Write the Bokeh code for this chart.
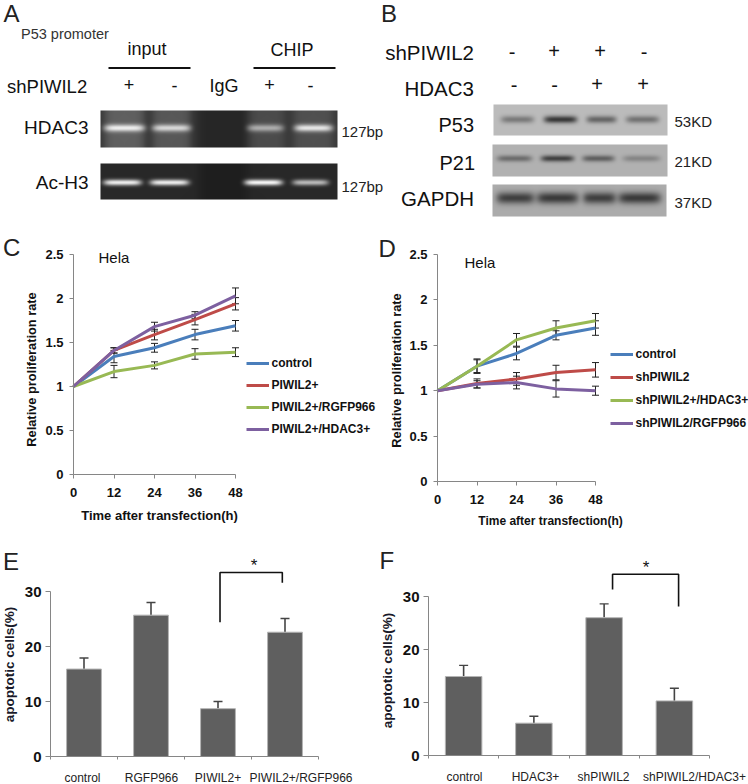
import numpy as np
from bokeh.embed import file_html
from bokeh.resources import INLINE
from bokeh.core.properties import value
from bokeh.layouts import column, row
from bokeh.models import (ColumnDataSource, FixedTicker, Label, Legend, LegendItem, LinearAxis, PrintfTickFormatter,
                          Range1d, TeeHead, Whisker)
from bokeh.plotting import figure

FONT = "Liberation Sans"

# ---- data ----
hours = [0, 12, 24, 36, 48]

c_names = ["control", "PIWIL2+", "PIWIL2+/RGFP966", "PIWIL2+/HDAC3+"]
c_control = [1, 1.34, 1.44, 1.59, 1.69]
c_piwil2 = [1, 1.41, 1.59, 1.76, 1.94]
c_rgfp = [1, 1.17, 1.24, 1.37, 1.39]
c_hdac3 = [1, 1.41, 1.68, 1.81, 2.03]
c_control_err = [0, 0.07, 0.05, 0.06, 0.06]
c_piwil2_err = [0, 0.03, 0.06, 0.06, 0.07]
c_rgfp_err = [0, 0.07, 0.04, 0.06, 0.05]
c_hdac3_err = [0, 0.03, 0.05, 0.04, 0.09]

d_names = ["control", "shPIWIL2", "shPIWIL2+/HDAC3+", "shPIWIL2/RGFP966"]
d_control = [1, 1.27, 1.41, 1.61, 1.69]
d_shpiwil2 = [1, 1.08, 1.13, 1.20, 1.23]
d_hdac3 = [1, 1.27, 1.56, 1.69, 1.77]
d_rgfp = [1, 1.07, 1.09, 1.02, 1.00]
d_control_err = [0, 0.08, 0.07, 0.05, 0.08]
d_shpiwil2_err = [0, 0.05, 0.07, 0.08, 0.08]
d_hdac3_err = [0, 0.07, 0.07, 0.08, 0.08]
d_rgfp_err = [0, 0.04, 0.07, 0.09, 0.05]

e_names = ["control", "RGFP966", "PIWIL2+", "PIWIL2+/RGFP966"]
e_values = [15.9, 25.7, 8.7, 22.6]
e_upper = [17.9, 28.0, 10.0, 25.1]

f_names = ["control", "HDAC3+", "shPIWIL2", "shPIWIL2/HDAC3+"]
f_values = [14.9, 6.1, 26.0, 10.3]
f_upper = [17.0, 7.4, 28.6, 12.7]

# band strengths read from the blots
a_hdac3_bands = [1.0, 0.85, 0.6, 0.95]
a_ach3_bands = [0.95, 0.95, 1.0, 0.7]
b_p53_bands = [0.5, 1.0, 0.65, 0.55]
b_p21_bands = [0.55, 0.9, 0.65, 0.35]
b_gapdh_bands = [0.95, 1.0, 0.95, 1.0]

BLUE, RED, GREEN, PURPLE = "#4a7ebb", "#be4b48", "#98b954", "#7d60a0"
AXIS = "#868686"


def gel(p, box, bg, band_col, lanes, cy, thick, strengths, smear=()):
    x0, y0, x1, y1 = box
    w, h = x1 - x0, y1 - y0
    ys, xs = np.mgrid[0:h, 0:w]
    xs = xs + x0 + 0.5
    ys = ys + y0 + 0.5
    val = np.full((h, w), float(bg))
    for sx, sw, samp in smear:
        val += samp * np.exp(-(((xs - sx) / (sw / 2)) ** 6))
    for (cx, bw), s in zip(lanes, strengths):
        prof = np.exp(-(((xs - cx) / (bw / 2)) ** 6)) * np.exp(-(((ys - cy) / thick) ** 2))
        val = val + (band_col - val) * np.clip(prof * s, 0, 1)
    val = np.clip(val, 0, 255).astype(np.uint32)
    rgba = (255 << 24) | (val << 16) | (val << 8) | val
    p.image_rgba(image=[rgba[::-1].astype(np.uint32)], x=x0, y=TOP_H - y1, dw=w, dh=h)


# ---- top panels (A, B): one canvas in page pixels ----
TOP_H = 228
top = figure(width=748, height=TOP_H, x_range=Range1d(0, 748), y_range=Range1d(0, TOP_H),
             output_backend="svg", toolbar_location=None, min_border=0)
top.axis.visible = False
top.grid.visible = False
top.outline_line_color = None

gel(top, (100, 110, 337, 147), 58, 240, [(124, 40), (171, 38), (265, 36), (313, 38)], 127.5, 3.6, a_hdac3_bands,
    smear=[(124, 40, 38), (171, 38, 30), (265, 38, 18), (313, 40, 22), (223, 56, -20)])
gel(top, (100, 163, 337, 199), 40, 250, [(122, 38), (169, 39), (263, 38), (310, 36)], 182, 3.0, a_ach3_bands,
    smear=[(223, 50, -10)])
gel(top, (493, 104, 667, 135), 188, 55, [(517, 33), (560, 33), (601, 30), (642, 33)], 119, 3.6, b_p53_bands)
gel(top, (492, 144, 667, 176), 178, 50, [(514, 35), (557, 33), (598, 32), (641, 37)], 158, 3.2, b_p21_bands)
gel(top, (492, 184, 666, 216), 172, 58, [(515, 38), (557, 42), (599, 33), (639, 43)], 197.5, 5.8, b_gapdh_bands)

top_texts = [
    ("A", 3, 13, 24, "left", "#222222"), ("P53 promoter", 20.5, 33, 14.5, "left", "#333333"),
    ("input", 146.5, 48, 18, "center", "#111111"), ("CHIP", 291.5, 49, 18, "center", "#111111"),
    ("shPIWIL2", 6.5, 86, 18.5, "left", "#111111"), ("+", 128.5, 84, 18, "center", "#111111"),
    ("-", 174, 85, 18, "center", "#111111"), ("IgG", 223.5, 85, 18, "center", "#111111"),
    ("+", 269, 84, 18, "center", "#111111"), ("-", 310, 85, 18, "center", "#111111"),
    ("HDAC3", 88, 127, 19, "right", "#111111"), ("Ac-H3", 88, 182, 19, "right", "#111111"),
    ("127bp", 341, 131, 15, "left", "#222222"), ("127bp", 341, 186, 15, "left", "#222222"),
    ("B", 380.5, 13, 24, "left", "#222222"),
    ("shPIWIL2", 473.5, 52, 20.5, "right", "#111111"), ("HDAC3", 473.5, 88, 20.5, "right", "#111111"),
    ("P53", 473.5, 124, 20, "right", "#111111"), ("P21", 474.5, 162, 20, "right", "#111111"),
    ("GAPDH", 473.5, 198, 20.5, "right", "#111111"),
    ("-", 511.5, 51, 20, "center", "#111111"), ("+", 553.5, 50, 20, "center", "#111111"),
    ("+", 599.5, 50, 20, "center", "#111111"), ("-", 643.5, 51, 20, "center", "#111111"),
    ("-", 513.5, 84, 20, "center", "#111111"), ("-", 554, 84, 20, "center", "#111111"),
    ("+", 596.5, 83, 20, "center", "#111111"), ("+", 642.5, 83, 20, "center", "#111111"),
    ("53KD", 674, 121, 15, "left", "#222222"), ("21KD", 674, 161, 15, "left", "#222222"),
    ("37KD", 674, 202, 15, "left", "#222222"),
]
for txt, x, y, size, align, col in top_texts:
    top.text(x=[x], y=[TOP_H - y], text=[txt], text_font=value(FONT), text_font_size=f"{size}px",
             text_align=align, text_baseline="middle", text_color=col)
top.line(x=[108, 190], y=[TOP_H - 67.5] * 2, line_color="#111111", line_width=2.2)
top.line(x=[253, 335], y=[TOP_H - 67.5] * 2, line_color="#111111", line_width=2.2)


def canvas_figure(ox, oy, w, h, fl, fr, ft, fb, xmax, ymax):
    """A figure whose frame fills the canvas, with (0,0)-(xmax,ymax) at the given page pixels."""
    sx = xmax / (fr - fl)
    sy = ymax / (fb - ft)
    p = figure(width=w, height=h, x_range=Range1d(-(fl - ox) * sx, xmax + (ox + w - fr) * sx),
               y_range=Range1d(-(oy + h - fb) * sy, ymax + (ft - oy) * sy), x_axis_location=None,
               y_axis_location=None, output_backend="svg", toolbar_location=None, min_border=0)
    p.grid.visible = False
    p.outline_line_color = None
    return p


def label(p, ox, oy, h, txt, x, y, size, align="left", style="normal", color="#111111", angle=0):
    p.add_layout(Label(x=x - ox, y=oy + h - y, x_units="screen", y_units="screen", text=txt, text_font=FONT,
                       text_font_size=f"{size}px", text_align=align, text_baseline="middle",
                       text_font_style=style, text_color=color, angle=angle, level="overlay"))


def line_panel(ox, oy, w, h, fl, fr, ft, fb, names, series, errs, letter, lx, ly, hela_x, hela_y,
               leg_x, leg_first, leg_step, ytitle, xtitle, xlab_size):
    p = canvas_figure(ox, oy, w, h, fl, fr, ft, fb, 48, 2.5)
    xax = LinearAxis(fixed_location=0, bounds=(0, 48), ticker=FixedTicker(ticks=hours))
    yax = LinearAxis(fixed_location=0, bounds=(0, 2.5), ticker=FixedTicker(ticks=[0, 0.5, 1, 1.5, 2, 2.5]),
                     formatter=PrintfTickFormatter(format="%g"))
    p.add_layout(xax, "below")
    p.add_layout(yax, "left")
    for ax in (xax, yax):
        ax.major_label_text_font = FONT
        ax.major_label_text_font_style = "bold"
        ax.major_label_text_font_size = "13px"
        ax.major_label_text_color = "#111111"
        ax.axis_line_color = AXIS
        ax.major_tick_line_color = AXIS
        ax.minor_tick_line_color = None
        ax.major_tick_in = 0
        ax.major_tick_out = 4
    xax.major_label_standoff = 9
    yax.major_label_standoff = 6
    items = []
    for name, ys, err, col in zip(names, series, errs, [BLUE, RED, GREEN, PURPLE]):
        r = p.line(hours, ys, line_color=col, line_width=3)
        items.append(LegendItem(label=name, renderers=[r]))
        up = [a + b for a, b in zip(ys, err)]
        lo = [a - b for a, b in zip(ys, err)]
        src = ColumnDataSource(dict(x=hours[1:], up=up[1:], lo=lo[1:]))
        p.add_layout(Whisker(source=src, base="x", upper="up", lower="lo", line_color="#222222", line_width=1,
                             upper_head=TeeHead(size=7, line_color="#222222", line_width=1),
                             lower_head=TeeHead(size=7, line_color="#222222", line_width=1)))
    leg_h = 4 * 18 + 3 * (leg_step - 18)
    leg = Legend(items=items, location=(leg_x - ox, oy + h - (leg_first - 9 + leg_h)), orientation="vertical",
                 padding=0, margin=0, background_fill_alpha=0, border_line_color=None, glyph_width=23,
                 glyph_height=18, label_height=18, label_standoff=3, spacing=leg_step - 18, label_text_font=FONT,
                 label_text_font_size="12px", label_text_font_style="bold", label_text_color="#111111")
    p.add_layout(leg, "center")
    label(p, ox, oy, h, letter, lx, ly, 24, color="#222222")
    label(p, ox, oy, h, "Hela", hela_x, hela_y, 15)
    label(p, ox, oy, h, "Relative proliferation rate", ytitle[0], ytitle[1], 12.8, align="center", style="bold",
          angle=np.pi / 2)
    label(p, ox, oy, h, "Time after transfection(h)", xtitle[0], xtitle[1], xlab_size, align="center", style="bold")
    return p


c = line_panel(0, 228, 377, 300, 73, 235, 254, 474, c_names, [c_control, c_piwil2, c_rgfp, c_hdac3],
               [c_control_err, c_piwil2_err, c_rgfp_err, c_hdac3_err], "C", 2.5, 246.5, 98, 257,
               245.5, 362.5, 22, (31, 369), (159, 515), 13)
d = line_panel(377, 228, 371, 300, 437, 595, 254, 481, d_names, [d_control, d_shpiwil2, d_hdac3, d_rgfp],
               [d_control_err, d_shpiwil2_err, d_hdac3_err, d_rgfp_err], "D", 378, 248, 464, 262,
               609.5, 353.5, 23, (396, 370), (550, 520), 12)


def bar_panel(ox, w, fl, fr, y30, y0, names, vals, upper, label_centers, letter, lx, ly, br, star, ytitle):
    oy, h = 528, 256
    n = len(vals)
    p = canvas_figure(ox, oy, w, h, fl, fr, y30, y0, n, 30)
    centers = [i + 0.5 for i in range(n)]
    src = ColumnDataSource(dict(x=centers, top=vals, upper=upper))
    p.vbar(x="x", top="top", width=0.52, source=src, fill_color="#5f5f5f", line_color="#b4b4b4", line_width=1)
    p.add_layout(Whisker(source=src, base="x", upper="upper", lower="top", line_color="#444444", line_width=1.6,
                         upper_head=TeeHead(size=9, line_color="#444444", line_width=1.4), lower_head=None))
    unit = (fr - fl) / n
    ticks = [(cx - fl) / unit for cx in label_centers]
    xax = LinearAxis(fixed_location=0, bounds=(0, n), ticker=FixedTicker(ticks=ticks, minor_ticks=list(range(n + 1))),
                     major_label_overrides={t: nm for t, nm in zip(ticks, names)})
    yax = LinearAxis(fixed_location=0, bounds=(0, 30), ticker=FixedTicker(ticks=[0, 10, 20, 30]))
    p.add_layout(xax, "below")
    p.add_layout(yax, "left")
    xax.major_tick_line_color = None
    xax.minor_tick_line_color = AXIS
    xax.minor_tick_in = 0
    xax.minor_tick_out = 3
    xax.major_label_standoff = 8
    xax.major_label_text_font = FONT
    xax.major_label_text_font_size = "12px"
    xax.major_label_text_color = "#222222"
    yax.minor_tick_line_color = None
    yax.major_tick_line_color = AXIS
    yax.major_tick_in = 0
    yax.major_tick_out = 5
    yax.major_label_standoff = 4
    yax.major_label_text_font = FONT
    yax.major_label_text_font_style = "bold"
    yax.major_label_text_font_size = "15px"
    yax.major_label_text_color = "#111111"
    xax.axis_line_color = AXIS
    yax.axis_line_color = AXIS
    bx0, bx1, by0, bytop, by1 = br
    p.line([bx0, bx0, bx1, bx1], [by0, bytop, bytop, by1], line_color="#111111", line_width=1.6)
    label(p, ox, oy, h, "*", star[0], star[1], 17, align="center")
    label(p, ox, oy, h, letter, lx, ly, 24, color="#222222")
    label(p, ox, oy, h, "apoptotic cells(%)", ytitle[0], ytitle[1], 13.5, align="center", style="bold",
          color="#1a1a2a", angle=np.pi / 2)
    return p


e = bar_panel(0, 370, 50, 318, 591, 756, e_names, e_values, e_upper, [82, 151, 217.5, 300.5], "E", 2.5, 561,
              (2.53, 3.46, 24.4, 33.45, 31.6), (253.5, 565), (9, 664))
f = bar_panel(370, 378, 428, 709, 596, 755, f_names, f_values, f_upper, [464, 535, 603, 694], "F", 379, 560,
              (2.62, 3.56, 31.3, 34.2, 28.1), (645.5, 567), (387, 670))

page = column(top, row(c, d, spacing=0), row(e, f, spacing=0), spacing=0)
open("out.html", "w").write(file_html(page, INLINE))
